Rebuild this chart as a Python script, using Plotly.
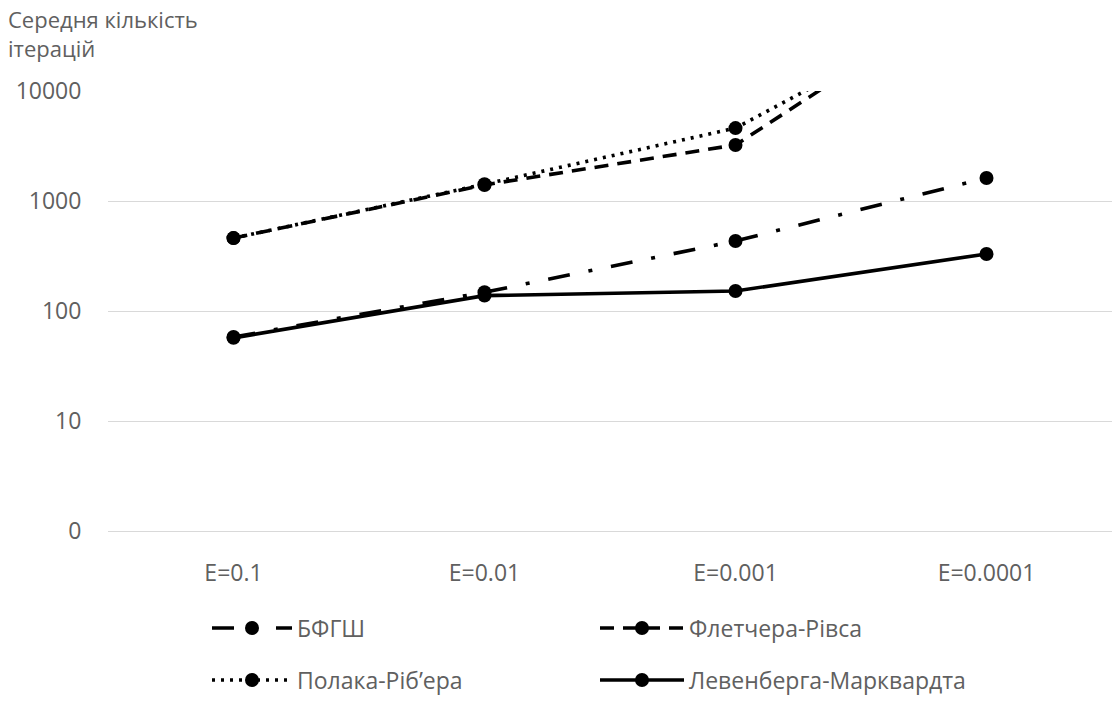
import plotly.graph_objects as go

# Accuracy levels on the x axis
categories = ["E=0.1", "E=0.01", "E=0.001", "E=0.0001"]

# Mean number of iterations per method
bfgs = [58, 148, 433, 1620]
fletcher_reeves = [460, 1400, 3230, 98000]
polak_ribiere = [460, 1420, 4600, 76000]
levenberg_marquardt = [57, 138, 152, 330]

# Log-axis ticks (the lowest gridline is labelled "0")
tick_values = [1, 10, 100, 1000, 10000]
tick_labels = ["0", "10", "100", "1000", "10000"]

series_names = ["БФГШ", "Флетчера-Рівса", "Полака-Ріб’ера", "Левенберга-Марквардта"]

W, H = 1112, 702
M_L, M_T = 108, 91
PLOT_BOTTOM = 531
PAPER_H = H - M_T
dom_bottom = (H - PLOT_BOTTOM) / PAPER_H

GREY = "#606060"
GRID = "#d9d9d9"
FONT = "Open Sans"
FS = 23
LW = 3.6
MS = 14

styles = {
    "БФГШ": "22px,19px,4px,19px",
    "Флетчера-Рівса": "14px,9px",
    "Полака-Ріб’ера": "3px,6px",
    "Левенберга-Марквардта": "solid",
}

fig = go.Figure()

draw_order = [
    ("БФГШ", bfgs),
    ("Флетчера-Рівса", fletcher_reeves),
    ("Полака-Ріб’ера", polak_ribiere),
    ("Левенберга-Марквардта", levenberg_marquardt),
]
for name, vals in draw_order:
    fig.add_trace(go.Scatter(
        x=categories, y=vals, name=name, mode="lines+markers",
        line=dict(color="black", width=LW, dash=styles[name]),
        marker=dict(color="black", size=MS),
        showlegend=False, cliponaxis=True,
    ))

# Legend samples drawn on a pixel-unit helper axis below the plot
legend_pos = {
    "БФГШ": (212, 292, 628),
    "Флетчера-Рівса": (600, 684, 628),
    "Полака-Ріб’ера": (212, 292, 680),
    "Левенберга-Марквардта": (600, 684, 680),
}
for name in series_names:
    x0, x1, yy = legend_pos[name]
    xm = (x0 + x1) / 2
    fig.add_trace(go.Scatter(
        x=[x0, xm, x1], y=[yy, yy, yy], mode="lines",
        line=dict(color="black", width=LW, dash=styles[name]),
        xaxis="x2", yaxis="y2", showlegend=False, hoverinfo="skip",
    ))
    fig.add_trace(go.Scatter(
        x=[xm], y=[yy], mode="markers",
        marker=dict(color="black", size=MS),
        xaxis="x2", yaxis="y2", showlegend=False, hoverinfo="skip",
    ))
    fig.add_annotation(
        x=x1 + 3, y=yy, xref="x2", yref="y2", text=name, showarrow=False,
        xanchor="left", yanchor="middle", font=dict(family=FONT, size=FS, color=GREY),
    )

# Axis title at the top-left corner (paper coordinates)
fig.add_annotation(
    x=(6 - M_L) / (W - M_L), y=1 + (M_T - 33) / PAPER_H,
    xref="paper", yref="paper", text="Середня кількість<br>ітерацій", showarrow=False,
    xanchor="left", yanchor="middle", align="left",
    font=dict(family=FONT, size=22, color=GREY),
)

fig.update_layout(
    width=W, height=H,
    margin=dict(l=M_L, r=0, t=M_T, b=0, pad=0, autoexpand=False),
    paper_bgcolor="white", plot_bgcolor="white",
    font=dict(family=FONT, size=FS, color=GREY),
    xaxis=dict(
        type="category", categoryorder="array", categoryarray=categories,
        range=[-0.5, 3.5], domain=[0, 1], anchor="y", automargin=False,
        showgrid=False, zeroline=False,
        showline=True, linecolor=GRID, linewidth=1.3,
        ticks="outside", ticklen=21, tickcolor="rgba(0,0,0,0)",
        tickfont=dict(family=FONT, size=FS, color=GREY),
    ),
    yaxis=dict(
        type="log", range=[0, 4], domain=[dom_bottom, 1], anchor="x", automargin=False,
        tickvals=tick_values, ticktext=tick_labels,
        showgrid=True, gridcolor=GRID, gridwidth=1.3,
        zeroline=False, showline=False,
        ticks="outside", ticklen=21, tickcolor="rgba(0,0,0,0)",
        tickfont=dict(family=FONT, size=FS, color=GREY),
    ),
    xaxis2=dict(range=[M_L, W], domain=[0, 1], anchor="y2", visible=False,
                fixedrange=True, automargin=False),
    yaxis2=dict(range=[H, PLOT_BOTTOM], domain=[0, dom_bottom], anchor="x2", visible=False,
                fixedrange=True, automargin=False),
)

fig.write_html("out.html")
